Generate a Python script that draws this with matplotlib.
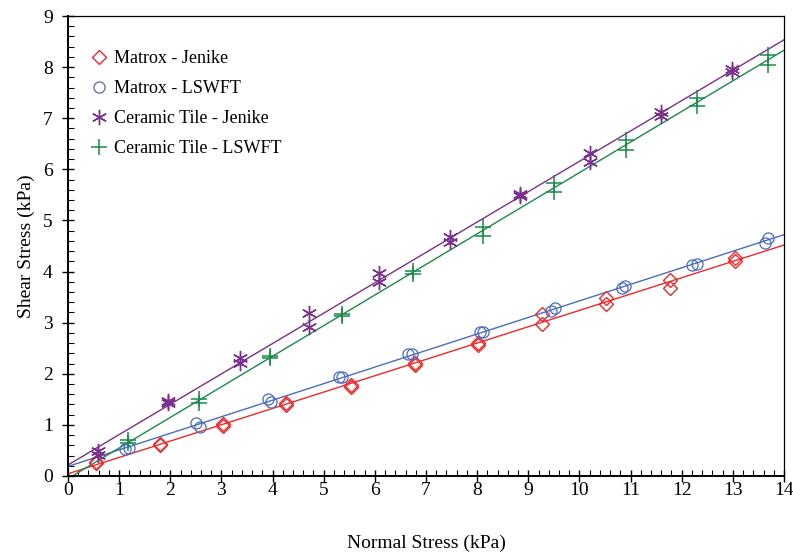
import numpy as np
import matplotlib
matplotlib.use("Agg")
import matplotlib.pyplot as plt
from matplotlib.ticker import MultipleLocator
from matplotlib.lines import Line2D

## Font: Times-like serif
plt.rcParams['font.family'] = ['Liberation Serif', 'DejaVu Serif']

## Data (normal stress, shear stress in kPa)
matrox_jenike_x = [0.55, 0.55, 1.79, 1.79, 3.04, 3.04, 4.26, 4.26, 5.53, 5.53, 6.79, 6.79,
                   8.02, 8.02, 9.27, 9.27, 10.51, 10.51, 11.77, 11.77, 13.04, 13.04]
matrox_jenike_y = [0.28, 0.25, 0.62, 0.60, 1.01, 0.98, 1.43, 1.39, 1.79, 1.75, 2.21, 2.18,
                   2.60, 2.57, 3.16, 2.98, 3.48, 3.36, 3.84, 3.68, 4.27, 4.21]

matrox_lswft_x = [1.11, 1.20, 2.50, 2.58, 3.92, 3.96, 5.29, 5.35, 6.65, 6.73,
                  8.06, 8.11, 9.44, 9.52, 10.83, 10.90, 12.21, 12.29, 13.62, 13.69]
matrox_lswft_y = [0.52, 0.54, 1.03, 0.96, 1.50, 1.45, 1.94, 1.94, 2.39, 2.39,
                  2.81, 2.81, 3.22, 3.29, 3.67, 3.72, 4.13, 4.15, 4.55, 4.66]

ceramic_jenike_x = [0.59, 0.59, 1.96, 1.96, 3.36, 3.36, 4.72, 4.72, 6.08, 6.08,
                    7.47, 7.47, 8.84, 8.84, 10.21, 10.21, 11.60, 11.60, 12.98, 12.98]
ceramic_jenike_y = [0.48, 0.41, 1.46, 1.42, 2.30, 2.22, 3.18, 2.92, 3.97, 3.79,
                    4.68, 4.57, 5.52, 5.47, 6.31, 6.15, 7.12, 7.05, 7.97, 7.90]

ceramic_lswft_x = [1.18, 1.18, 2.57, 2.57, 3.95, 3.95, 5.35, 5.35, 6.75, 6.75,
                   8.11, 8.11, 9.50, 9.50, 10.91, 10.91, 12.29, 12.29, 13.68, 13.68]
ceramic_lswft_y = [0.70, 0.65, 1.50, 1.43, 2.35, 2.30, 3.17, 3.13, 4.02, 3.95,
                   4.88, 4.70, 5.73, 5.55, 6.58, 6.38, 7.39, 7.24, 8.24, 8.04]

labels = ['Matrox - Jenike', 'Matrox - LSWFT', 'Ceramic Tile - Jenike', 'Ceramic Tile - LSWFT']

## Plot styles for each series
series = [
    (matrox_jenike_x, matrox_jenike_y, '#ee2a2a', 'D', 7.0, 1.0),
    (matrox_lswft_x, matrox_lswft_y, '#4a6cbf', 'o', 8, 0.9),
    (ceramic_jenike_x, ceramic_jenike_y, '#7a2f8c', (6, 2, 0), 11, 1.0),
    (ceramic_lswft_x, ceramic_lswft_y, '#198a48', '+', 12, 1.1),
]

fig = plt.figure(figsize=(7.93, 5.57), dpi=100)
ax = fig.add_axes([68 / 793, 1 - 476 / 557, (784 - 68) / 793, (476 - 16) / 557])

xlim = np.array([0, 14])
handles = []
for (x, y, color, marker, ms, mew), label in zip(series, labels):
    x = np.array(x)
    y = np.array(y)
    ## Linear fit through each series
    slope, intercept = np.polyfit(x, y, 1)
    ax.plot(xlim, slope * xlim + intercept, color=color, lw=1.0, zorder=2)
    ax.plot(x, y, linestyle='none', marker=marker, markersize=ms, markerfacecolor='none',
            markeredgecolor=color, markeredgewidth=mew, zorder=3)
    handles.append(Line2D([], [], linestyle='none', marker=marker, markersize=ms,
                          markerfacecolor='none', markeredgecolor=color, markeredgewidth=mew,
                          label=label))

ax.set_xlim(0, 14)
ax.set_ylim(0, 9)
ax.xaxis.set_major_locator(MultipleLocator(1))
ax.xaxis.set_minor_locator(MultipleLocator(0.2))
ax.yaxis.set_major_locator(MultipleLocator(1))
ax.yaxis.set_minor_locator(MultipleLocator(0.2))
ax.tick_params(which='major', direction='inout', length=8, width=1.0, labelsize=14)
ax.tick_params(axis='x', which='major', pad=0)
ax.tick_params(axis='y', which='major', pad=7)
ax.tick_params(which='minor', direction='in', length=4, width=0.8)
ax.tick_params(top=False, right=False)

for side in ['left', 'bottom']:
    ax.spines[side].set_linewidth(1.4)
for side in ['top', 'right']:
    ax.spines[side].set_linewidth(0.9)

ax.set_xlabel('Normal Stress (kPa)', fontsize=14, labelpad=26)
ax.set_ylabel('Shear Stress (kPa)', fontsize=14, labelpad=6)

ax.legend(handles=handles, loc='upper left', bbox_to_anchor=(0.022, 0.942), frameon=False,
          fontsize=13, handlelength=0.9, handletextpad=0.35, labelspacing=0.72,
          borderaxespad=0.0)

fig.savefig('out.png', dpi=100)
